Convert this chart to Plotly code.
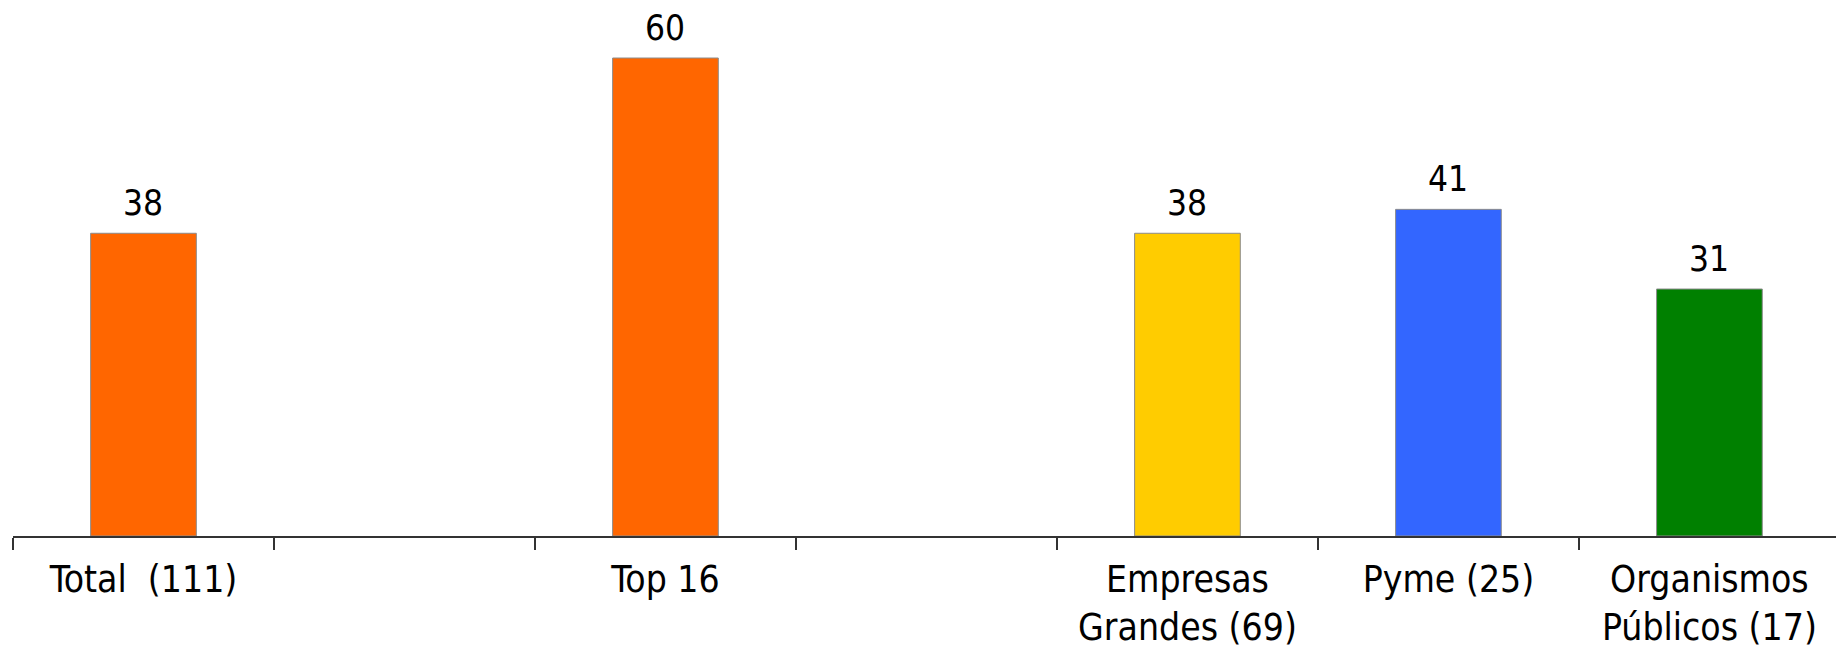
import plotly.graph_objects as go

# Categories (two blank slots separate the groups)
categories = ["Total\u00a0 (111)", " ", "Top 16", "  ", "Empresas<br>Grandes (69)",
              "Pyme (25)", "Organismos<br>Públicos (17)"]
values = [38, None, 60, None, 38, 41, 31]
colors = ["#FF6600", "#FFFFFF", "#FF6600", "#FFFFFF", "#FFCC00", "#3366FF", "#008000"]

FONT = "DejaVu Sans Condensed, DejaVu Sans, sans-serif"

fig = go.Figure(
    go.Bar(
        x=categories,
        y=values,
        marker=dict(color=colors, line=dict(color="#8C8C8C", width=1)),
        width=0.405,
        hoverinfo="skip",
    )
)

# Value labels above each bar
for cat, val in zip(categories, values):
    if val is None:
        continue
    fig.add_annotation(
        x=cat, y=val, text=str(val), showarrow=False,
        yanchor="bottom", yshift=8,
        font=dict(family=FONT, size=35, color="#000000"),
    )

fig.update_layout(
    width=1836, height=648,
    margin=dict(l=13, r=0, t=0, b=112),
    paper_bgcolor="#FFFFFF", plot_bgcolor="#FFFFFF",
    showlegend=False,
    font=dict(family=FONT, size=37, color="#000000"),
)
fig.update_xaxes(
    type="category",
    range=[-0.5, 6.485],
    showline=True, linecolor="#333333", linewidth=1.5,
    ticks="outside", tickson="boundaries", ticklen=12, tickwidth=1.5, tickcolor="#333333",
    showgrid=False, zeroline=False,
    tickfont=dict(family=FONT, size=37, color="#000000"),
    ticklabelstandoff=10,
)
fig.update_yaxes(
    range=[0, 67.28],
    visible=False, showgrid=False, zeroline=False,
)

fig.write_html("out.html")
